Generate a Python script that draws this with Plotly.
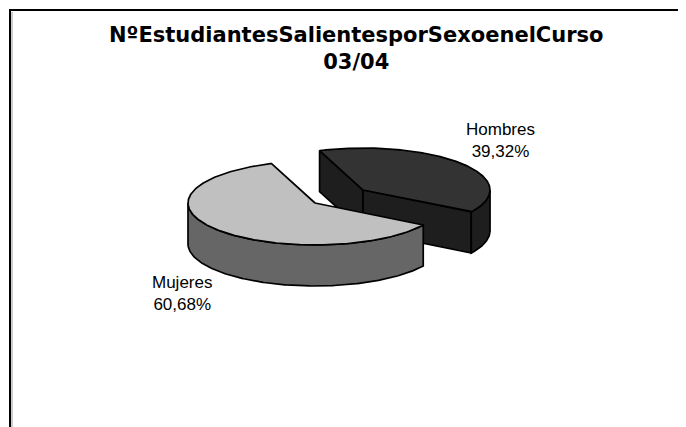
import numpy as np
import plotly.graph_objects as go

# ---- data ----
labels = ["Hombres", "Mujeres"]
shares = [39.32, 60.68]
title_lines = ["NºEstudiantesSalientesporSexoenelCurso", "03/04"]

# ---- style ----
top_colors = ["#333333", "#c0c0c0"]
side_colors = ["#1e1e1e", "#666666"]
explode = [62, 0]
CX, CY = 315, 203      # pie centre (page pixels)
A, B = 127, 42         # ellipse radii
T = 41                 # thickness
START = 110.0          # first slice starts here (deg, CCW from +x), drawn clockwise
OFF = 8                # page body margin compensation

fig = go.Figure()

total = sum(shares)
slices = []
hi = np.radians(START)
for i, s in enumerate(shares):
    span = 2 * np.pi * s / total
    lo = hi - span
    mid = (lo + hi) / 2
    e = explode[i]
    c = (CX + e * np.cos(mid), CY - e * (B / A) * np.sin(mid))
    slices.append(dict(i=i, lo=lo, hi=hi, mid=mid, c=c))
    hi = lo


def rim(c, t, dz=0.0):
    return c[0] + A * np.cos(t), c[1] - B * np.sin(t) + dz


def poly(xs, ys, fill):
    fig.add_trace(go.Scatter(
        x=list(xs) + [xs[0]], y=list(ys) + [ys[0]], mode="lines", fill="toself",
        fillcolor=fill, line=dict(color="black", width=1.7),
        hoverinfo="skip", showlegend=False))


for sl in sorted(slices, key=lambda d: d["c"][1]):
    i, lo, hi, c = sl["i"], sl["lo"], sl["hi"], sl["c"]
    side = side_colors[i]
    # radial faces (front-facing only)
    for t, front in ((hi, np.cos(hi) < 0), (lo, np.cos(lo) > 0)):
        if front:
            x1, y1 = rim(c, t)
            poly([c[0], x1, x1, c[0]], [c[1], y1, y1 + T, c[1] + T], side)
    # outer curved side (front half)
    ts = np.linspace(lo, hi, 400)
    mask = np.sin(ts) < 0
    runs, cur = [], []
    for t, m in zip(ts, mask):
        if m:
            cur.append(t)
        elif cur:
            runs.append(cur); cur = []
    if cur:
        runs.append(cur)
    for run in runs:
        run = np.array(run)
        xt, yt = rim(c, run)
        xb, yb = rim(c, run[::-1], T)
        poly(np.concatenate([xt, xb]), np.concatenate([yt, yb]), side)
    # top face
    xt, yt = rim(c, ts)
    poly(np.concatenate([[c[0]], xt]), np.concatenate([[c[1]], yt]), top_colors[i])

annotations = []
for sl in slices:
    i, mid, c = sl["i"], sl["mid"], sl["c"]
    f = 1.03
    x = c[0] + f * A * np.cos(mid)
    y = c[1] - f * B * np.sin(mid) + (T if np.sin(mid) < 0 else 0)
    txt = f"{labels[i]}<br>{shares[i]:.2f}%".replace(".", ",")
    annotations.append(dict(
        x=x, y=y, xref="x", yref="y", text=txt, showarrow=False, align="center",
        xanchor="left" if np.cos(mid) > 0 else "right",
        yanchor="bottom" if np.sin(mid) > 0 else "top",
        font=dict(family="Liberation Sans", size=17, color="black")))

annotations.append(dict(
    x=356, y=48, xref="x", yref="y", text="<br>".join(title_lines), showarrow=False,
    xanchor="center", yanchor="middle", align="center",
    font=dict(family="DejaVu Sans", size=21, color="black", weight="bold")))

fig.update_layout(
    width=686, height=427, margin=dict(l=0, r=0, t=0, b=0),
    paper_bgcolor="white", plot_bgcolor="white",
    xaxis=dict(range=[OFF, 686 + OFF], visible=False, fixedrange=True),
    yaxis=dict(range=[427 + OFF, OFF], visible=False, fixedrange=True),
    annotations=annotations,
    shapes=[
        dict(type="rect", xref="x", yref="y", x0=10, y0=10, x1=720, y1=460,
             line=dict(color="black", width=2)),
        dict(type="line", xref="x", yref="y", x0=12, y0=12, x1=12, y1=460,
             line=dict(color="#999999", width=1)),
    ],
)

fig.write_html("out.html")
